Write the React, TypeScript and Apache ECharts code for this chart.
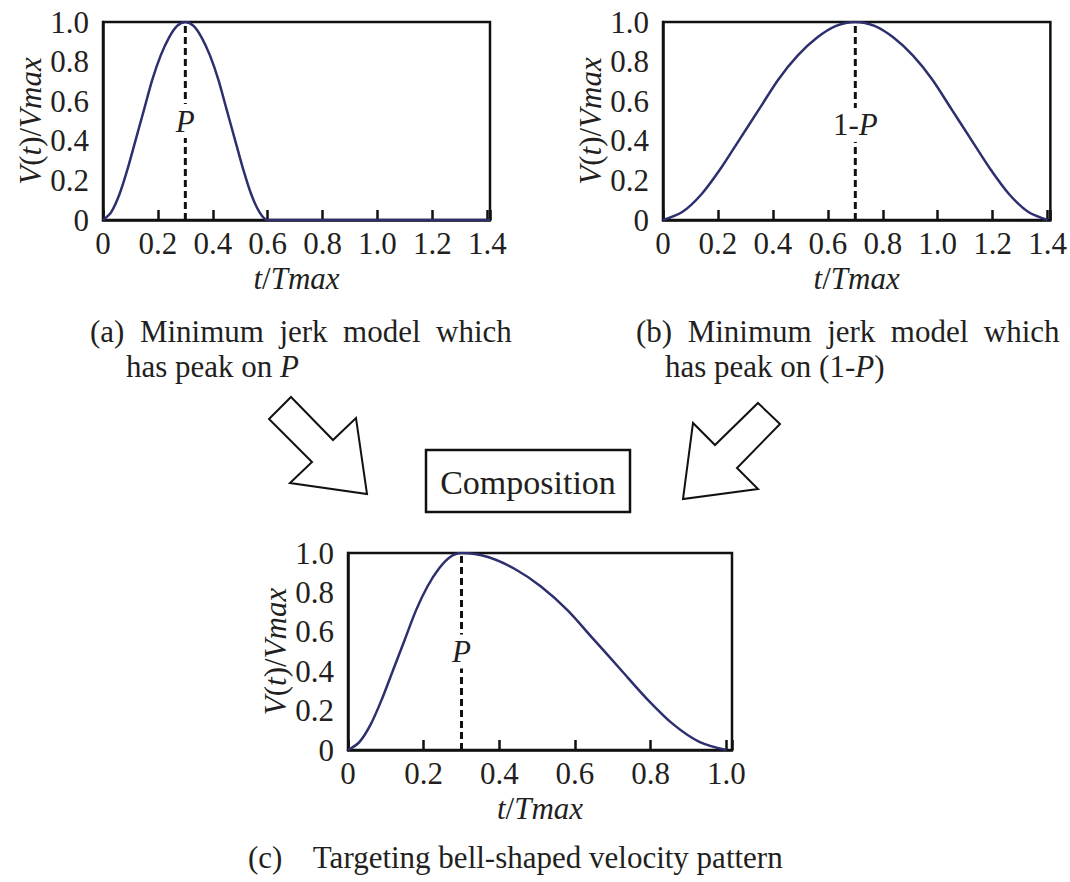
import React, { useEffect, useRef } from 'react';
import * as echarts from 'echarts';

const FONT = '"Liberation Serif", "Times New Roman", serif';
const INK = '#231f20';
const CURVE = '#2d2f6e';

// (a) minimum jerk model with peak on P
const aX = [0, 0.03, 0.06, 0.09, 0.12, 0.15, 0.18, 0.21, 0.24, 0.27, 0.3, 0.33, 0.36, 0.39, 0.42, 0.45, 0.48, 0.51, 0.54, 0.57, 0.6, 1.41];
const aY = [0, 0.04, 0.13, 0.26, 0.41, 0.56, 0.71, 0.83, 0.92, 0.98, 1.0, 0.98, 0.92, 0.83, 0.71, 0.56, 0.41, 0.26, 0.13, 0.04, 0, 0];
// (b) minimum jerk model with peak on 1-P
const bX = [0, 0.07, 0.14, 0.21, 0.28, 0.35, 0.42, 0.49, 0.56, 0.63, 0.7, 0.77, 0.84, 0.91, 0.98, 1.05, 1.12, 1.19, 1.26, 1.33, 1.4];
const bY = [0, 0.04, 0.13, 0.26, 0.41, 0.56, 0.71, 0.83, 0.92, 0.98, 1.0, 0.98, 0.92, 0.83, 0.71, 0.56, 0.41, 0.26, 0.13, 0.04, 0];
// (c) composed bell-shaped velocity pattern
const cX = [0, 0.03, 0.06, 0.09, 0.12, 0.15, 0.18, 0.21, 0.24, 0.27, 0.3, 0.37, 0.44, 0.51, 0.58, 0.65, 0.72, 0.79, 0.86, 0.93, 1.0];
const cY = [0, 0.04, 0.13, 0.26, 0.41, 0.56, 0.71, 0.83, 0.92, 0.98, 1.0, 0.98, 0.92, 0.83, 0.71, 0.56, 0.41, 0.26, 0.13, 0.04, 0];

const peaks = [0.3, 0.7, 0.3];
const peakLabels = ['{i|P}', '{r|1-}{i|P}', '{i|P}'];
const peakLabelY = [0.5, 0.48, 0.5];
const xMax = [1.41, 1.41, 1.015];

const captionA = ['(a)  Minimum  jerk  model  which', 'has peak on {i|P}'];
const captionB = ['(b)  Minimum  jerk  model  which', 'has peak on (1-{i|P})'];
const captionC = '(c)    Targeting bell-shaped velocity pattern';

const FS = 31;

const richDefs = (size: number) => ({
  i: { fontFamily: FONT, fontStyle: 'italic', fontSize: size, color: INK, textBorderWidth: 0 },
  r: { fontFamily: FONT, fontSize: size, color: INK, textBorderWidth: 0 },
});

const zip = (xs: number[], ys: number[]) => xs.map((x, i) => [x, ys[i]]);

const tickFmt = (v: number) => {
  const k = v / 0.2;
  if (Math.abs(k - Math.round(k)) > 1e-6) return '';
  return v === 0 ? '0' : v.toFixed(1);
};

export default function App() {
  const ref = useRef<HTMLDivElement>(null);
  useEffect(() => {
    if (!ref.current) return;
    const chart = echarts.init(ref.current, undefined, { renderer: 'svg' });
    const grids = [
      { left: 103, top: 22, width: 387, height: 198 },
      { left: 663, top: 22, width: 388, height: 198 },
      { left: 348, top: 553, width: 384, height: 197 },
    ];
    const axisLine = { show: true, lineStyle: { color: '#111', width: 2.5 } };
    const xAxis = grids.map((_, i) => ({
      type: 'value', gridIndex: i, min: 0, max: xMax[i], interval: 0.2,
      axisLine,
      axisTick: { show: true, inside: true, length: 10, lineStyle: { color: '#111', width: 2.5 } },
      axisLabel: { fontFamily: FONT, fontSize: FS, color: INK, margin: 8, formatter: tickFmt },
      splitLine: { show: false },
      name: '{i|t}{r|/}{i|Tmax}', nameLocation: 'middle', nameGap: 43,
      nameTextStyle: { fontFamily: FONT, fontSize: FS, color: INK, rich: richDefs(FS) },
    }));
    const yAxis = grids.map((_, i) => ({
      type: 'value', gridIndex: i, min: 0, max: 1, interval: 0.2,
      axisLine,
      axisTick: { show: false },
      axisLabel: { fontFamily: FONT, fontSize: FS, color: INK, margin: 14, formatter: (v: number) => (v === 0 ? '0' : v.toFixed(1)) },
      splitLine: { show: false },
      name: '{i|V}{r|(}{i|t}{r|)/}{i|Vmax}', nameLocation: 'middle', nameGap: 57,
      nameTextStyle: { fontFamily: FONT, fontSize: FS, color: INK, rich: richDefs(FS) },
    }));
    const curves = [zip(aX, aY), zip(bX, bY), zip(cX, cY)];
    const series: any[] = [];
    curves.forEach((d, i) => {
      series.push({
        type: 'line', xAxisIndex: i, yAxisIndex: i, data: d, symbol: 'none', smooth: 0.3,
        lineStyle: { color: CURVE, width: 2.5 }, z: 3, silent: true,
      });
      series.push({
        type: 'line', xAxisIndex: i, yAxisIndex: i, data: [[peaks[i], 0], [peaks[i], 1]], symbol: 'none',
        lineStyle: { color: '#111', width: 3, type: [7, 4] }, z: 4, silent: true,
      });
      series.push({
        type: 'scatter', xAxisIndex: i, yAxisIndex: i, data: [[peaks[i], peakLabelY[i]]],
        symbol: 'rect', symbolSize: [10, 34], z: 6, silent: true,
        itemStyle: { color: '#ffffff', opacity: 1 },
        label: {
          show: true, position: 'inside', formatter: peakLabels[i],
          rich: richDefs(FS), fontFamily: FONT, fontSize: FS, color: INK, textBorderWidth: 0, opacity: 1,
        },
      });
    });
    const txt = (x: number, y: number, text: string, size: number, align = 'left') => ({
      type: 'text', x, y, z: 10,
      style: { text, fontFamily: FONT, fontSize: size, fill: INK, align, verticalAlign: 'middle', rich: richDefs(size) },
    });
    const arrowStyle = { fill: '#fff', stroke: '#111', lineWidth: 2 };
    const graphic = [
      txt(90, 331, captionA[0], FS), txt(126, 366, captionA[1], FS),
      txt(636, 331, captionB[0], FS), txt(665, 366, captionB[1], FS),
      txt(248, 857, captionC, FS),
      { type: 'polygon', shape: { points: [[291, 397], [333, 440], [356, 418], [367, 494], [290, 483], [312, 462], [269, 419]] }, style: arrowStyle },
      { type: 'polygon', shape: { points: [[758, 403], [780, 424], [737, 468], [758, 489], [683, 499], [693, 423], [715, 445]] }, style: arrowStyle },
      { type: 'rect', shape: { x: 426, y: 450, width: 204, height: 62 }, style: { fill: '#fff', stroke: '#111', lineWidth: 2.5 } },
      txt(528, 482, 'Composition', 34, 'center'),
    ];
    chart.setOption({
      animation: false,
      backgroundColor: '#fff',
      grid: grids.map((g) => ({ ...g, show: true, borderColor: '#111', borderWidth: 2.5, backgroundColor: 'transparent' })),
      xAxis, yAxis, series, graphic,
    });
    return () => chart.dispose();
  }, []);
  return <div ref={ref} style={{ position: 'absolute', left: 0, top: 0, width: 1070, height: 882 }} />;
}
